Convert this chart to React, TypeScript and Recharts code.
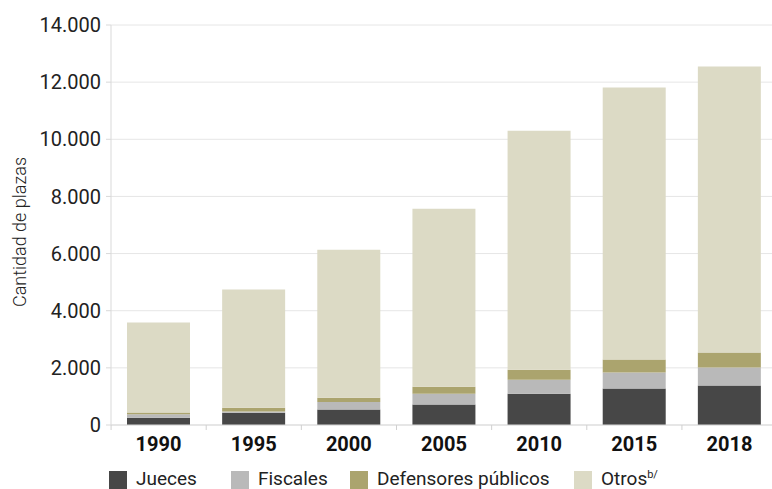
import { BarChart, Bar, XAxis, YAxis, CartesianGrid } from 'recharts';

const years = ['1990', '1995', '2000', '2005', '2010', '2015', '2018'];
const jueces = [250, 430, 545, 720, 1095, 1280, 1385];
const fiscales = [130, 45, 260, 375, 490, 560, 630];
const defensores = [60, 130, 150, 245, 350, 455, 525];
const otros = [3150, 4135, 5180, 6230, 8365, 9520, 10010];
const yTicks = [0, 2000, 4000, 6000, 8000, 10000, 12000, 14000];

const series = [
  { key: 'jueces', name: 'Jueces', color: '#474747' },
  { key: 'fiscales', name: 'Fiscales', color: '#b9b9b9' },
  { key: 'defensores', name: 'Defensores públicos', color: '#aba46e' },
  { key: 'otros', name: 'Otros', color: '#dcdac5' },
];

// legend item x positions
const legendX = [109, 231, 350, 574];

const data = years.map((year, i) => ({
  year,
  jueces: jueces[i],
  fiscales: fiscales[i],
  defensores: defensores[i],
  otros: otros[i],
}));

const FONT = 'Roboto, "Noto Sans", sans-serif';
const BAND = 95;

const fmt = (v: number) => v.toString().replace(/\B(?=(\d{3})+(?!\d))/g, '.');

function YearTick(props: any) {
  const { x, y, payload, index } = props;
  return (
    <g>
      <line x1={x - BAND / 2} x2={x - BAND / 2} y1={y} y2={y + 5} stroke="#d0d0d0" />
      {index === years.length - 1 && (
        <line x1={x + BAND / 2} x2={x + BAND / 2} y1={y} y2={y + 5} stroke="#d0d0d0" />
      )}
      <text x={x} y={y + 26} textAnchor="middle" fontSize={20} fontWeight={700} fill="#111" fontFamily={FONT}>
        {payload.value}
      </text>
    </g>
  );
}

export default function App() {
  return (
    <div style={{ position: 'fixed', left: 0, top: 0, width: 772, height: 489, overflow: 'hidden', background: '#fff' }}>
      <BarChart width={777} height={489} data={data} margin={{ top: 25, right: 0, bottom: 0, left: 0 }} barSize={63}>
        <CartesianGrid vertical={false} stroke="#e6e6e6" />
        <XAxis
          dataKey="year"
          height={64}
          tickLine={false}
          tickSize={0}
          tickMargin={0}
          axisLine={{ stroke: '#d9d9d9' }}
          tick={<YearTick />}
          interval={0}
        />
        <YAxis
          width={111}
          domain={[0, 14000]}
          ticks={yTicks}
          tickFormatter={fmt}
          tickSize={5}
          tickMargin={5}
          axisLine={{ stroke: '#d9d9d9' }}
          tickLine={{ stroke: '#d9d9d9' }}
          tick={{ fontSize: 20, fill: '#222', fontFamily: FONT }}
          label={({ viewBox }: any) => (
            <text
              x={19}
              y={viewBox.y + viewBox.height / 2 + 7}
              transform={`rotate(-90, 19, ${viewBox.y + viewBox.height / 2 + 7})`}
              textAnchor="middle"
              dominantBaseline="central"
              fontSize={18}
              fontWeight={300}
              fill="#222"
              fontFamily={FONT}
            >
              Cantidad de plazas
            </text>
          )}
        />
        {series.map((s) => (
          <Bar key={s.key} dataKey={s.key} name={s.name} stackId="a" fill={s.color} isAnimationActive={false} />
        ))}
      </BarChart>
      {series.map((s, i) => (
        <div
          key={s.key}
          style={{
            position: 'absolute',
            left: legendX[i],
            top: 469,
            height: 20,
            display: 'flex',
            alignItems: 'flex-start',
            fontFamily: FONT,
            fontSize: 19,
            lineHeight: '19px',
            color: '#222',
            whiteSpace: 'nowrap',
          }}
        >
          <span style={{ display: 'inline-block', width: 18, height: 18, marginTop: 2, background: s.color, marginRight: 9 }} />
          <span>
            {s.name}
            {s.key === 'otros' && <sup style={{ fontSize: 11, lineHeight: 0 }}>b/</sup>}
          </span>
        </div>
      ))}
    </div>
  );
}
